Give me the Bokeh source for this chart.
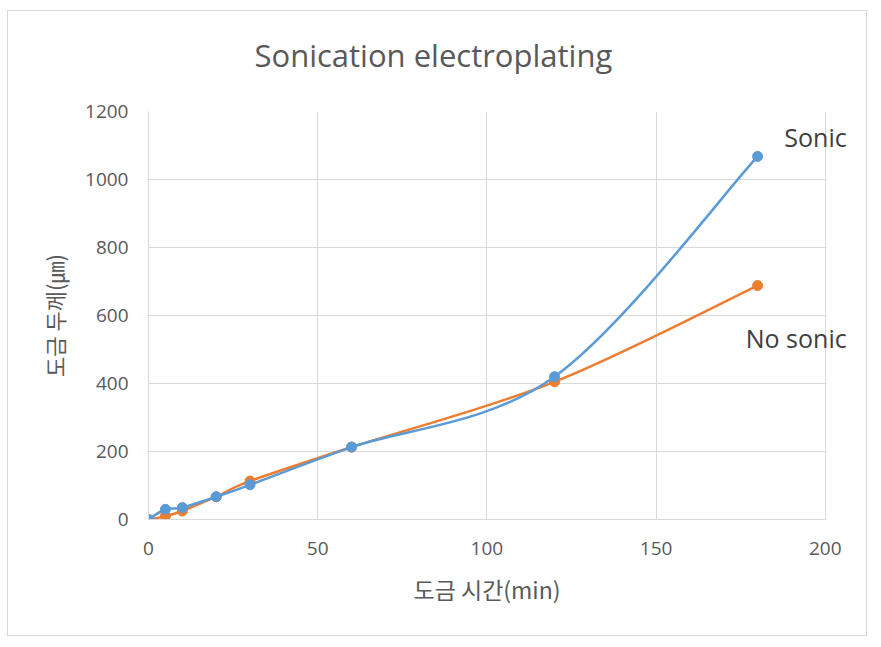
from bokeh.plotting import figure
from bokeh.models import Range1d, Label, FixedTicker, Title
from bokeh.embed import file_html
from bokeh.resources import INLINE

time_min = [0, 5, 10, 20, 30, 60, 120, 180]
sonic = [0, 30, 35, 67, 102, 213, 420, 1068]
no_sonic = [0, 10, 25, 67, 113, 213, 405, 688]
x_ticks = [0, 50, 100, 150, 200]
y_ticks = [0, 200, 400, 600, 800, 1000, 1200]

BLUE = "#5B9BD5"
ORANGE = "#ED7D31"
GRID = "#D9D9D9"
TXT = "#595959"


def smooth(xs, ys):
    n = len(xs)
    out = {k: [] for k in ("x0", "y0", "x1", "y1", "cx0", "cy0", "cx1", "cy1")}
    for i in range(n - 1):
        a = max(i - 1, 0)
        d = min(i + 2, n - 1)
        out["x0"].append(xs[i]); out["y0"].append(ys[i])
        out["x1"].append(xs[i + 1]); out["y1"].append(ys[i + 1])
        out["cx0"].append(xs[i] + (xs[i + 1] - xs[a]) / 6)
        out["cy0"].append(ys[i] + (ys[i + 1] - ys[a]) / 6)
        out["cx1"].append(xs[i + 1] - (xs[d] - xs[i]) / 6)
        out["cy1"].append(ys[i + 1] - (ys[d] - ys[i]) / 6)
    return out


# x range reaches a little past 200 so the end labels are not clipped
p = figure(width=860, height=626, x_range=Range1d(0, 211), y_range=Range1d(0, 1200),
           output_backend="svg", toolbar_location=None,
           min_border_left=140, min_border_right=6, min_border_top=100, min_border_bottom=118)
p.styles = {"border": "1px solid #D9D9D9", "margin-left": "7px", "margin-top": "10px"}
p.outline_line_color = None
p.background_fill_color = "white"
p.border_fill_color = "white"

for ax in (p.xaxis[0], p.yaxis[0]):
    ax.axis_line_color = GRID
    ax.major_tick_line_color = None
    ax.minor_tick_line_color = None
    ax.major_label_text_color = TXT
    ax.major_label_text_font = "Open Sans"
    ax.major_label_text_font_size = "19px"
    ax.axis_label_text_color = TXT
    ax.axis_label_text_font = "Noto Sans CJK KR"
    ax.axis_label_text_font_size = "22px"
    ax.axis_label_text_font_style = "normal"

p.xaxis.ticker = FixedTicker(ticks=x_ticks)
p.yaxis.ticker = FixedTicker(ticks=y_ticks)
p.xaxis.bounds = (0, 200)
p.xaxis.major_label_standoff = 16
p.yaxis.major_label_standoff = 14
p.yaxis.axis_label = "도금 두께(㎛)"
p.yaxis.axis_label_standoff = 12

p.xgrid.ticker = FixedTicker(ticks=x_ticks)
p.ygrid.ticker = FixedTicker(ticks=y_ticks)
p.ygrid.cross_bounds = (0, 200)
p.xgrid.grid_line_color = GRID
p.ygrid.grid_line_color = GRID

for ys, col in ((no_sonic, ORANGE), (sonic, BLUE)):
    s = smooth(time_min, ys)
    p.bezier(x0=s["x0"], y0=s["y0"], x1=s["x1"], y1=s["y1"],
             cx0=s["cx0"], cy0=s["cy0"], cx1=s["cx1"], cy1=s["cy1"],
             line_color=col, line_width=2.5)
    p.scatter(time_min, ys, size=10, color=col, line_color=col)

p.add_layout(Label(x=187.9, y=1126, text="Sonic", text_align="left", text_baseline="middle",
                   text_font="Open Sans", text_font_size="25px", text_color="#404040"))
p.add_layout(Label(x=176.5, y=535, text="No sonic", text_align="left", text_baseline="middle",
                   text_font="Open Sans", text_font_size="25px", text_color="#404040"))
# blank spacer between the frame and the chart title
p.add_layout(Title(text=" ", text_font_size="2px", standoff=32), "above")
p.add_layout(Title(text="Sonication electroplating", align="left", offset=106,
                   standoff=0, text_font="Open Sans", text_font_size="31px",
                   text_font_style="normal", text_color=TXT), "above")
# x-axis title, centred under the 0-200 span of the axis
p.add_layout(Title(text="도금 시간(min)", align="left", offset=265,
                   standoff=25, text_font="Noto Sans CJK KR", text_font_size="23px",
                   text_font_style="normal", text_color=TXT), "below")

open("out.html", "w").write(file_html(p, INLINE))
